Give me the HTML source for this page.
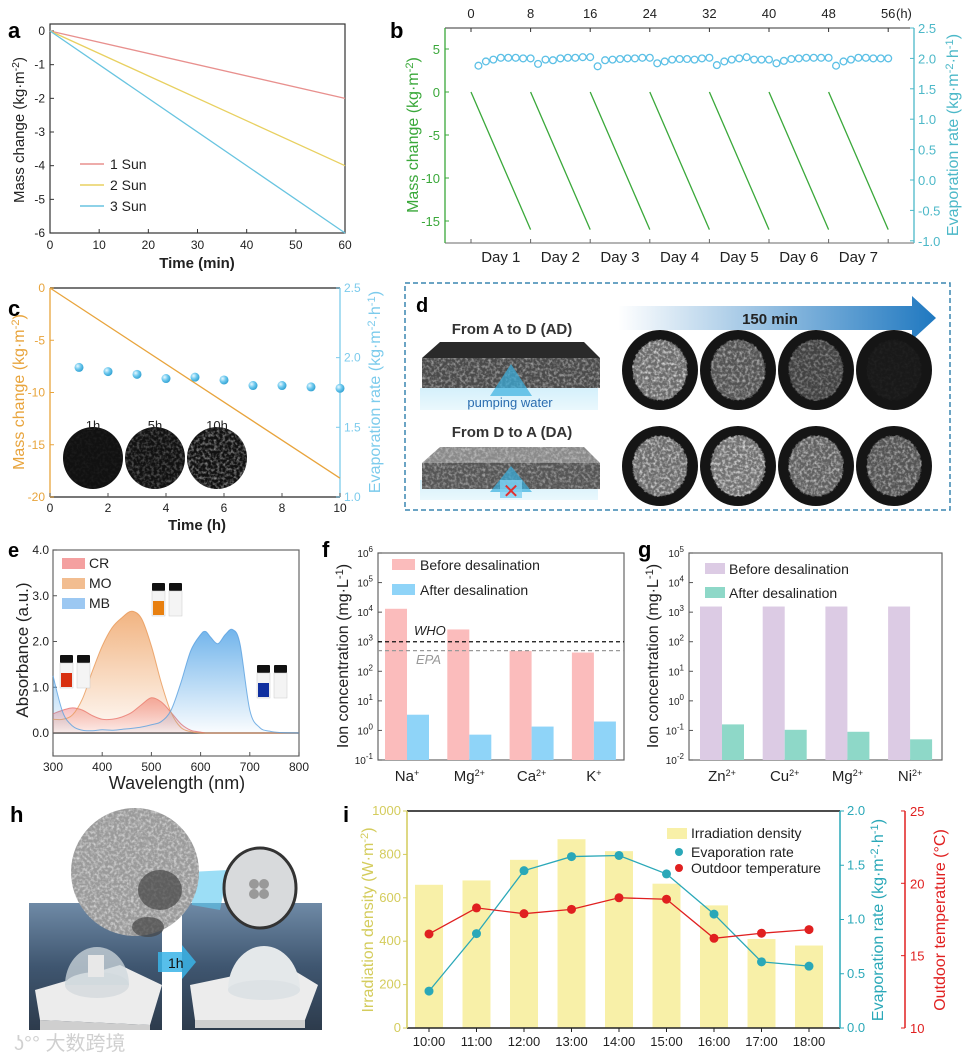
<!DOCTYPE html>
<html><head><meta charset="utf-8"><style>
html,body{margin:0;padding:0;background:#fff}
svg{display:block;font-family:"Liberation Sans","Noto Sans CJK SC",sans-serif}
</style></head><body>
<svg id="fig" width="965" height="1059" viewBox="0 0 965 1059" xmlns="http://www.w3.org/2000/svg">
<defs>
<filter id="noise" x="0" y="0" width="100%" height="100%"><feTurbulence type="fractalNoise" baseFrequency="0.35" numOctaves="2" seed="3" result="n"/><feColorMatrix in="n" type="matrix" values="0 0 0 0 1 0 0 0 0 1 0 0 0 0 1 0 0 0 2.2 -0.9" result="w"/><feComposite in="w" in2="SourceGraphic" operator="in"/></filter>
<radialGradient id="sph" cx="0.35" cy="0.35" r="0.7"><stop offset="0" stop-color="#e8f8ff"/><stop offset="0.5" stop-color="#6cc8ee"/><stop offset="1" stop-color="#2f9fd0"/></radialGradient>
<linearGradient id="arrowG" x1="0" x2="1"><stop offset="0" stop-color="#1f78c0" stop-opacity="0"/><stop offset="1" stop-color="#1f78c0"/></linearGradient>
<linearGradient id="gCR" gradientUnits="userSpaceOnUse" x1="0" y1="690" x2="0" y2="733"><stop offset="0" stop-color="#f07878" stop-opacity="0.75"/><stop offset="1" stop-color="#f07878" stop-opacity="0.1"/></linearGradient>
<linearGradient id="gMO" gradientUnits="userSpaceOnUse" x1="0" y1="610" x2="0" y2="733"><stop offset="0" stop-color="#eea060" stop-opacity="0.8"/><stop offset="1" stop-color="#eea060" stop-opacity="0.05"/></linearGradient>
<linearGradient id="gMB" gradientUnits="userSpaceOnUse" x1="0" y1="630" x2="0" y2="733"><stop offset="0" stop-color="#5aa8e8" stop-opacity="0.85"/><stop offset="1" stop-color="#5aa8e8" stop-opacity="0.03"/></linearGradient>
<linearGradient id="sea" x1="0" y1="0" x2="0" y2="1"><stop offset="0" stop-color="#6f8aa6"/><stop offset="0.5" stop-color="#3f5670"/><stop offset="1" stop-color="#2d3b4c"/></linearGradient>
<linearGradient id="water" x1="0" y1="0" x2="0" y2="1"><stop offset="0" stop-color="#d4f0fb"/><stop offset="1" stop-color="#eaf8fd"/></linearGradient>
</defs>

<!-- panel labels -->
<text x="8" y="38" font-size="22" font-weight="bold">a</text>
<text x="390" y="38" font-size="22" font-weight="bold">b</text>
<text x="8" y="316" font-size="22" font-weight="bold">c</text>
<text x="416" y="312" font-size="20" font-weight="bold">d</text>
<text x="8" y="557" font-size="20" font-weight="bold">e</text>
<text x="322" y="557" font-size="22" font-weight="bold">f</text>
<text x="638" y="557" font-size="22" font-weight="bold">g</text>
<text x="10" y="822" font-size="22" font-weight="bold">h</text>
<text x="343" y="822" font-size="22" font-weight="bold">i</text>

<!-- panel d -->
<g>
<rect x="405" y="283" width="545" height="227" fill="none" stroke="#3a86b0" stroke-width="1.5" stroke-dasharray="5,3"/>
<polygon points="618,306 912,306 912,296 936,318 912,340 912,330 618,330" fill="url(#arrowG)"/>
<text x="770" y="324" font-size="15" font-weight="bold" text-anchor="middle" fill="#222">150 min</text>
<text x="512" y="334" font-size="15" font-weight="bold" text-anchor="middle" fill="#333">From A to D (AD)</text>
<text x="512" y="437" font-size="15" font-weight="bold" text-anchor="middle" fill="#333">From D to A (DA)</text>
<g>
<rect x="420" y="388" width="178" height="22" fill="url(#water)"/>
<polygon points="440,342 584,342 600,358 422,358" fill="#2a2a2a"/>
<rect x="422" y="358" width="178" height="30" fill="#4a4a4a"/>
<rect x="422" y="358" width="178" height="30" fill="#fff" filter="url(#noise)" opacity="0.5"/>
<polygon points="511,364 532,396 490,396" fill="#3ab0e0" opacity="0.7"/>
<text x="510" y="407" font-size="13" text-anchor="middle" fill="#2b6db0">pumping water</text>
</g>
<g>
<rect x="420" y="480" width="178" height="20" fill="url(#water)"/>
<polygon points="440,447 584,447 600,463 422,463" fill="#8a8a8a"/>
<rect x="422" y="463" width="178" height="26" fill="#555"/>
<rect x="422" y="447" width="178" height="42" fill="#fff" filter="url(#noise)" opacity="0.45"/>
<polygon points="511,466 532,492 490,492" fill="#3ab0e0" opacity="0.7"/>
<rect x="500" y="480" width="22" height="18" fill="#7fd0f0" opacity="0.8"/>
<text x="511" y="498" font-size="20" text-anchor="middle" fill="#e03030">✕</text>
</g>
<g id="dphotos"></g>
</g>

<!-- panel h photos -->
<g>
<g>
<rect x="29" y="903" width="133" height="127" fill="url(#sea)"/>
<polygon points="35,990 120,965 162,985 150,1025 40,1020" fill="#ececec"/>
<polygon points="40,1020 150,1025 150,1030 40,1030" fill="#cfcfcf"/>
<ellipse cx="97" cy="985" rx="32" ry="13" fill="#d9dde0"/>
<path d="M65,985 A32,38 0 0 1 129,985 Z" fill="#cfd8de" opacity="0.75"/>
<rect x="88" y="955" width="16" height="22" fill="#e8e8e8"/>
</g>
<g>
<rect x="182" y="903" width="140" height="127" fill="url(#sea)"/>
<polygon points="190,985 285,965 318,985 305,1020 195,1020" fill="#ececec"/>
<polygon points="195,1020 305,1020 305,1028 195,1028" fill="#cfcfcf"/>
<path d="M228,990 A36,44 0 0 1 300,990 Z" fill="#e4e8ea"/>
<ellipse cx="264" cy="990" rx="36" ry="10" fill="#dde2e5"/>
</g>
<polygon points="190,872 228,870 220,910 192,905" fill="#5ac8f0" opacity="0.6"/>
<ellipse cx="135" cy="872" rx="64" ry="64" fill="#9a9a9a"/>
<ellipse cx="135" cy="872" rx="64" ry="64" fill="#fff" filter="url(#noise)" opacity="0.6"/>
<ellipse cx="160" cy="890" rx="22" ry="20" fill="#444" opacity="0.7"/>
<ellipse cx="148" cy="927" rx="16" ry="10" fill="#444" opacity="0.7"/>
<ellipse cx="260" cy="888" rx="36" ry="40" fill="#d8dadc" stroke="#333" stroke-width="3"/>
<circle cx="254" cy="884" r="5" fill="#999"/><circle cx="264" cy="884" r="5" fill="#999"/><circle cx="254" cy="894" r="5" fill="#999"/><circle cx="264" cy="894" r="5" fill="#999"/>
<polygon points="158,952 182,952 182,945 196,962 182,979 182,972 158,972" fill="#3ab4e8" opacity="0.85"/>
<text x="168" y="968" font-size="14" fill="#111">1h</text>
<text x="14" y="1050" font-size="20" fill="#d0d0d0" font-family="Liberation Sans, Noto Sans CJK SC, sans-serif">ʖ°° 大数跨境</text>
</g>

<g id="charts"></g>
</svg>
<script>
const NS='http://www.w3.org/2000/svg';
const root=document.getElementById('charts');
function E(tag,attrs,name,parent){
  const e=document.createElementNS(NS,tag);
  for(const k in attrs)e.setAttribute(k,attrs[k]);
  
  
  (parent||root).appendChild(e);return e;
}
function T(x,y,s,attrs,name,parent){
  const e=E('text',Object.assign({x:x,y:y,'font-size':12,fill:'#222'},attrs||{}),name,parent);
  e.innerHTML=s;return e;
}
function L(x1,y1,x2,y2,stroke,w,name,extra){
  return E('line',Object.assign({x1:x1,y1:y1,x2:x2,y2:y2,stroke:stroke,'stroke-width':w||1},extra||{}),name);
}
function smooth(pts){
  let d='M'+pts[0][0]+','+pts[0][1];
  for(let i=0;i<pts.length-1;i++){
    const p0=pts[Math.max(0,i-1)],p1=pts[i],p2=pts[i+1],p3=pts[Math.min(pts.length-1,i+2)];
    const c1x=p1[0]+(p2[0]-p0[0])/6,c1y=p1[1]+(p2[1]-p0[1])/6;
    const c2x=p2[0]-(p3[0]-p1[0])/6,c2y=p2[1]-(p3[1]-p1[1])/6;
    d+=' C'+c1x+','+c1y+' '+c2x+','+c2y+' '+p2[0]+','+p2[1];
  }
  return d;
}
const sup=s=>'<tspan dy="-5" font-size="0.7em">'+s+'</tspan>';

/* ===== Panel a data ===== */
const aTimes=[0,60];
const aSunLabels=['1 Sun','2 Sun','3 Sun'];
const aSunStart=[0,0,0];
const aSunEnd=[-2,-4,-6];
const aXTicks=[0,10,20,30,40,50,60];
const aYTicks=[0,-1,-2,-3,-4,-5,-6];
const aColors=['#e8908e','#e8d060','#68c4e0'];
const ax=t=>50+t*4.917, ay=m=>31-m*33.67;
E('rect',{x:50,y:24,width:295,height:209,fill:'none',stroke:'#333','stroke-width':1.2},'panel-a-frame');
aXTicks.forEach(t=>{L(ax(t),233,ax(t),229,'#333',1,'a-x-tick');T(ax(t),249,t,{'text-anchor':'middle'},'a-x-tick-label');});
aYTicks.forEach(m=>{L(50,ay(m),54,ay(m),'#333',1,'a-y-tick');T(45,ay(m)+4,m,{'text-anchor':'end'},'a-y-tick-label');});
aSunEnd.forEach((v,i)=>{
  L(ax(aTimes[0]),ay(aSunStart[i]),ax(aTimes[1]),ay(v),aColors[i],1.3,'a-line-'+(i+1)+'-sun');
  L(80,164+i*21,104,164+i*21,aColors[i],1.5,'a-legend-swatch');
  T(110,169+i*21,aSunLabels[i],{'font-size':14},'a-legend-label');
});
T(197,268,'Time (min)',{'font-size':15,'font-weight':'bold','text-anchor':'middle'},'a-x-title');
T(0,0,'Mass change (kg·m'+sup('-2')+'<tspan dy="5">)</tspan>',{'font-size':15,'text-anchor':'middle',transform:'translate(24,130) rotate(-90)'},'a-y-title');

/* ===== Panel b data ===== */
const bDayStartHours=[0,8,16,24,32,40,48];
const bDayLength=8;
const bMassStart=[0,0,0,0,0,0,0];
const bMassEnd=[-16,-16,-16,-16,-16,-16,-16];
const bRates=[1.88,1.95,1.98,2.01,2.01,2.01,2.0,2.0,
 1.91,1.98,1.97,2.0,2.01,2.01,2.02,2.02,
 1.87,1.97,1.98,1.99,2.0,2.0,2.01,2.01,
 1.92,1.95,1.98,1.99,1.99,1.98,2.0,2.01,
 1.89,1.95,1.98,2.0,2.02,1.98,1.98,1.98,
 1.92,1.96,1.99,2.0,2.01,2.01,2.01,2.01,
 1.88,1.95,1.98,2.01,2.01,2.0,2.0,2.0];
const bTopTicks=[0,8,16,24,32,40,48,56];
const bLeftTicks=[5,0,-5,-10,-15];
const bRightTicks=[2.5,2.0,1.5,1.0,0.5,0.0,-0.5,-1.0];
const bDays=['Day 1','Day 2','Day 3','Day 4','Day 5','Day 6','Day 7'];
const bx=h=>471+h*7.45, byL=m=>92-m*8.6, byR=r=>28+(2.5-r)*60.8;
const bG='#3aa83a', bC='#4cb8c8';
L(445,28,914,28,'#333',1,'b-top-axis');
L(445,243,914,243,'#888',1.2,'b-bottom-axis');
L(445,28,445,243,bG,1.3,'b-left-axis');
L(914,28,914,243,bC,1.3,'b-right-axis');
bTopTicks.forEach(h=>{L(bx(h),28,bx(h),32,'#333',1,'b-top-tick');L(bx(h),243,bx(h),239,'#666',1,'b-bottom-tick');T(bx(h),18,h,{'text-anchor':'middle','font-size':13},'b-top-tick-label');});
T(896,18,'(h)',{'font-size':13},'b-top-unit');
bLeftTicks.forEach(m=>{L(445,byL(m),449,byL(m),bG,1,'b-left-tick');T(440,byL(m)+5,m,{'text-anchor':'end','font-size':13,fill:bG},'b-left-tick-label');});
bRightTicks.forEach(r=>{L(914,byR(r),910,byR(r),bC,1,'b-right-tick');T(918,byR(r)+5,r.toFixed(1),{'font-size':13,fill:bC},'b-right-tick-label');});
bDays.forEach((d,i)=>T(bx(bDayStartHours[i]+bDayLength/2),262,d,{'text-anchor':'middle','font-size':15},'b-day-label'));
bDayStartHours.forEach((h,i)=>L(bx(h),byL(bMassStart[i]),bx(h+bDayLength),byL(bMassEnd[i]),bG,1.3,'b-mass-line-day-'+(i+1)));
bRates.forEach((r,i)=>E('circle',{cx:bx(i+1),cy:byR(r),r:3.4,fill:'none',stroke:'#5cc0e6','stroke-width':1.3},'b-rate-point'));
T(0,0,'Mass change (kg·m'+sup('-2')+'<tspan dy="5">)</tspan>',{'font-size':16,fill:bG,'text-anchor':'middle',transform:'translate(418,135) rotate(-90)'},'b-left-title');
T(0,0,'Evaporation rate (kg·m'+sup('-2')+'<tspan dy="5">·h</tspan>'+sup('-1')+'<tspan dy="5">)</tspan>',{'font-size':16,fill:bC,'text-anchor':'middle',transform:'translate(958,135) rotate(-90)'},'b-right-title');

/* ===== Panel c data ===== */
const cLineHours=[0,10];
const cLineMass=[0,-18.2];
const cRateHours=[1,2,3,4,5,6,7,8,9,10];
const cRates=[1.93,1.90,1.88,1.85,1.86,1.84,1.80,1.80,1.79,1.78];
const cXTicks=[0,2,4,6,8,10];
const cLeftTicks=[0,-5,-10,-15,-20];
const cRightTicks=[2.5,2.0,1.5,1.0];
const cx=h=>50+h*29, cyL=m=>288-m*10.45, cyR=r=>288+(2.5-r)*139.3;
const cO='#e8a43c', cB='#7ccbec';
L(50,288,340,288,'#777',2,'c-top-axis');
L(50,497,340,497,'#777',2,'c-bottom-axis');
L(50,288,50,497,cO,1.3,'c-left-axis');
L(340,288,340,497,cB,1.3,'c-right-axis');
cXTicks.forEach(h=>{L(cx(h),497,cx(h),493,'#555',1,'c-x-tick');T(cx(h),512,h,{'text-anchor':'middle'},'c-x-tick-label');});
cLeftTicks.forEach(m=>{L(50,cyL(m),54,cyL(m),cO,1,'c-left-tick');T(45,cyL(m)+4,m,{'text-anchor':'end',fill:cO},'c-left-tick-label');});
cRightTicks.forEach(r=>{L(340,cyR(r),336,cyR(r),cB,1,'c-right-tick');T(344,cyR(r)+4,r.toFixed(1),{fill:cB},'c-right-tick-label');});
T(197,530,'Time (h)',{'font-size':15,'font-weight':'bold','text-anchor':'middle'},'c-x-title');
T(0,0,'Mass change (kg·m'+sup('-2')+'<tspan dy="5">)</tspan>',{'font-size':16,fill:cO,'text-anchor':'middle',transform:'translate(24,392) rotate(-90)'},'c-left-title');
T(0,0,'Evaporation rate (kg·m'+sup('-2')+'<tspan dy="5">·h</tspan>'+sup('-1')+'<tspan dy="5">)</tspan>',{'font-size':16,fill:cB,'text-anchor':'middle',transform:'translate(380,392) rotate(-90)'},'c-right-title');
const cPhotoLabels=['1h','5h','10h'];
const cPhotoBright=[0.05,0.3,0.5];
cPhotoLabels.forEach((s,i)=>{
  const x=93+i*62;
  E('ellipse',{cx:x,cy:458,rx:30,ry:31,fill:'#111'},'c-photo-'+s);
  E('ellipse',{cx:x,cy:458,rx:30,ry:31,fill:'#fff',filter:'url(#noise)',opacity:cPhotoBright[i]},'c-photo-texture');
  T(x,430,s,{'text-anchor':'middle','font-size':13},'c-photo-label');
});
E('path',{d:'M'+cx(cLineHours[0])+','+cyL(cLineMass[0])+' L'+cx(cLineHours[1])+','+cyL(cLineMass[1]),stroke:cO,'stroke-width':1.3,fill:'none'},'c-mass-line');
cRates.forEach((r,i)=>E('circle',{cx:cx(cRateHours[i]),cy:cyR(r),r:4.5,fill:'url(#sph)'},'c-rate-point'));

/* ===== Panel d photos ===== */
const dBright=[[0.75,0.55,0.4,0.04],[0.75,0.8,0.65,0.55]];
const dph=document.getElementById('dphotos');
dBright.forEach((row,ri)=>row.forEach((b,ci)=>{
  const x=660+ci*78,y=370+ri*96;
  E('ellipse',{cx:x,cy:y,rx:38,ry:40,fill:'#151515'},'salt-photo-bg',dph);
  E('ellipse',{cx:x,cy:y,rx:27,ry:30,fill:'#888',opacity:b},'salt-deposit',dph);
  E('ellipse',{cx:x,cy:y,rx:28,ry:31,fill:'#fff',filter:'url(#noise)',opacity:b},'salt-texture',dph);
}));

/* ===== Panel e data ===== */
const eWl=[300,320,340,360,380,400,420,440,460,480,500,520,540,560,580,600,610,620,635,650,665,680,700,720,740,760,800];
const eCR=[0.42,0.5,0.55,0.5,0.38,0.3,0.3,0.35,0.45,0.62,0.77,0.68,0.45,0.2,0.06,0.02,0,0,0,0,0,0,0,0,0,0,0];
const eMO=[0.3,0.3,0.4,0.75,1.35,1.9,2.3,2.52,2.66,2.5,1.9,1.1,0.45,0.12,0.03,0,0,0,0,0,0,0,0,0,0,0,0];
const eMB=[1.25,0.45,0.15,0.06,0.05,0.07,0.06,0.08,0.1,0.13,0.18,0.25,0.5,1.1,1.8,2.15,2.22,2.1,1.95,2.15,2.26,1.95,0.5,0.12,0.04,0.01,0];
const eXTicks=[300,400,500,600,700,800];
const eYTicks=[0,1,2,3,4];
const ex=w=>53+(w-300)*0.492, ey=a=>733-a*45.75;
E('rect',{x:53,y:550,width:246,height:206,fill:'none',stroke:'#666','stroke-width':1.2},'panel-e-frame');
L(53,733,299,733,'#555',1.5,'e-zero-line');
eXTicks.forEach(w=>{L(ex(w),756,ex(w),752,'#555',1,'e-x-tick');T(ex(w),771,w,{'text-anchor':'middle'},'e-x-tick-label');});
eYTicks.forEach(a=>{L(53,ey(a),57,ey(a),'#555',1,'e-y-tick');T(49,ey(a)+4,a.toFixed(1),{'text-anchor':'end'},'e-y-tick-label');});
T(177,789,'Wavelength (nm)',{'font-size':18,'text-anchor':'middle'},'e-x-title');
T(0,0,'Absorbance (a.u.)',{'font-size':17,'text-anchor':'middle',transform:'translate(28,650) rotate(-90)'},'e-y-title');
[['CR',eCR,'url(#gCR)','#e87070'],['MO',eMO,'url(#gMO)','#e89858'],['MB',eMB,'url(#gMB)','#5aa0e0']].forEach(s=>{
  const pts=eWl.map((w,i)=>[ex(w),ey(s[1][i])]);
  const d=smooth(pts);
  E('path',{d:d+' L'+ex(800)+','+ey(0)+' L'+ex(300)+','+ey(0)+' Z',fill:s[2],stroke:'none'},'e-area-'+s[0]);
  E('path',{d:d,fill:'none',stroke:s[3],'stroke-width':1,opacity:0.8},'e-curve-'+s[0]);
});
[['CR','#f4a0a0'],['MO','#f2bd90'],['MB','#9cc8f2']].forEach((s,i)=>{
  E('rect',{x:62,y:558+i*20,width:23,height:11,fill:s[1]},'e-legend-swatch');
  T(89,568+i*20,s[0],{'font-size':14},'e-legend-label');
});
const vials=[[60,655,'#d83010'],[152,583,'#e88010'],[257,665,'#1030a0']];
vials.forEach(v=>{
  [0,1].forEach(k=>{
    const x=v[0]+k*17;
    E('rect',{x:x,y:v[1],width:13,height:8,fill:'#111',rx:1},'vial-cap');
    E('rect',{x:x,y:v[1]+8,width:13,height:25,fill:'#f4f4f4',stroke:'#ccc','stroke-width':0.5},'vial-body');
    if(k===0)E('rect',{x:x+1,y:v[1]+18,width:11,height:14,fill:v[2]},'vial-dye');
  });
});

/* ===== Panel f data ===== */
const fIons=['Na<tspan dy="-5" font-size="9">+</tspan>','Mg<tspan dy="-5" font-size="9">2+</tspan>','Ca<tspan dy="-5" font-size="9">2+</tspan>','K<tspan dy="-5" font-size="9">+</tspan>'];
const fBefore=[13000,2600,490,430];
const fAfter=[3.4,0.72,1.35,2.0];
const fWHO=1000, fEPA=500;
const fExp=[-1,0,1,2,3,4,5,6];
const fy=v=>760-(Math.log10(v)+1)*29.57;
const fx=i=>407+i*62.3;
E('rect',{x:378,y:553,width:246,height:207,fill:'none',stroke:'#666','stroke-width':1.2},'panel-f-frame');
fExp.forEach(p=>{L(378,fy(Math.pow(10,p)),382,fy(Math.pow(10,p)),'#555',1,'f-y-tick');T(373,fy(Math.pow(10,p))+4,'10<tspan dy="-5" font-size="8">'+p+'</tspan>',{'text-anchor':'end','font-size':10},'f-y-tick-label');});
fBefore.forEach((v,i)=>{
  E('rect',{x:fx(i)-22,y:fy(v),width:22,height:760-fy(v),fill:'#fbbcbc'},'f-bar-before-'+i);
  E('rect',{x:fx(i),y:fy(fAfter[i]),width:22,height:760-fy(fAfter[i]),fill:'#8fd4f8'},'f-bar-after-'+i);
  T(fx(i),781,fIons[i],{'text-anchor':'middle','font-size':15},'f-x-label');
});
L(378,fy(fWHO),624,fy(fWHO),'#111',1.3,'f-who-line',{'stroke-dasharray':'4,3'});
L(378,fy(fEPA),624,fy(fEPA),'#999',1.3,'f-epa-line',{'stroke-dasharray':'4,3'});
T(414,635,'WHO',{'font-size':13,'font-style':'italic'},'f-who-label');
T(416,664,'EPA',{'font-size':13,'font-style':'italic',fill:'#999'},'f-epa-label');
E('rect',{x:392,y:559,width:23,height:11,fill:'#fbbcbc'},'f-legend-before-swatch');
T(420,570,'Before desalination',{'font-size':14},'f-legend-before');
E('rect',{x:392,y:584,width:23,height:11,fill:'#8fd4f8'},'f-legend-after-swatch');
T(420,595,'After desalination',{'font-size':14},'f-legend-after');
T(0,0,'Ion concentration (mg·L'+sup('-1')+'<tspan dy="5">)</tspan>',{'font-size':16,'text-anchor':'middle',transform:'translate(348,656) rotate(-90)'},'f-y-title');

/* ===== Panel g data ===== */
const gIons=['Zn<tspan dy="-5" font-size="9">2+</tspan>','Cu<tspan dy="-5" font-size="9">2+</tspan>','Mg<tspan dy="-5" font-size="9">2+</tspan>','Ni<tspan dy="-5" font-size="9">2+</tspan>'];
const gBefore=[1550,1550,1550,1550];
const gAfter=[0.16,0.105,0.09,0.05];
const gExp=[-2,-1,0,1,2,3,4,5];
const gy=v=>760-(Math.log10(v)+2)*29.57;
const gxp=i=>722+i*62.7;
E('rect',{x:689,y:553,width:253,height:207,fill:'none',stroke:'#666','stroke-width':1.2},'panel-g-frame');
gExp.forEach(p=>{L(689,gy(Math.pow(10,p)),693,gy(Math.pow(10,p)),'#555',1,'g-y-tick');T(684,gy(Math.pow(10,p))+4,'10<tspan dy="-5" font-size="8">'+p+'</tspan>',{'text-anchor':'end','font-size':10},'g-y-tick-label');});
gBefore.forEach((v,i)=>{
  E('rect',{x:gxp(i)-22,y:gy(v),width:22,height:760-gy(v),fill:'#dccbe4'},'g-bar-before-'+i);
  E('rect',{x:gxp(i),y:gy(gAfter[i]),width:22,height:760-gy(gAfter[i]),fill:'#8ed8c8'},'g-bar-after-'+i);
  T(gxp(i),781,gIons[i],{'text-anchor':'middle','font-size':15},'g-x-label');
});
E('rect',{x:705,y:563,width:20,height:11,fill:'#dccbe4'},'g-legend-before-swatch');
T(729,574,'Before desalination',{'font-size':14},'g-legend-before');
E('rect',{x:705,y:587,width:20,height:11,fill:'#8ed8c8'},'g-legend-after-swatch');
T(729,598,'After desalination',{'font-size':14},'g-legend-after');
T(0,0,'Ion concentration (mg·L'+sup('-1')+'<tspan dy="5">)</tspan>',{'font-size':16,'text-anchor':'middle',transform:'translate(658,656) rotate(-90)'},'g-y-title');

/* ===== Panel i data ===== */
const iTimes=['10:00','11:00','12:00','13:00','14:00','15:00','16:00','17:00','18:00'];
const iIrr=[660,680,775,870,815,665,565,410,380];
const iEvap=[0.34,0.87,1.45,1.58,1.59,1.42,1.05,0.61,0.57];
const iTemp=[16.5,18.3,17.9,18.2,19.0,18.9,16.2,16.55,16.8];
const iLeftTicks=[0,200,400,600,800,1000];
const iEvapTicks=[0.0,0.5,1.0,1.5,2.0];
const iTempTicks=[10,15,20,25];
const ix=i=>429+i*47.5, iyL=v=>1028-v*0.217, iyE=v=>1028-v*108.5, iyT=v=>1028-(v-10)*14.47;
const iY='#d4cc5c', iC='#2aa8b8', iR='#e02020';
iIrr.forEach((v,i)=>E('rect',{x:ix(i)-14,y:iyL(v),width:28,height:1028-iyL(v),fill:'#f8f0a8'},'i-bar-irradiation-'+iTimes[i]));
L(407,811,840,811,'#111',1.5,'i-top-axis');
L(407,1028,840,1028,'#222',1.5,'i-bottom-axis');
L(407,811,407,1028,iY,1.5,'i-left-axis');
L(840,811,840,1028,iC,1.5,'i-right-axis');
L(905,811,905,1028,iR,1.5,'i-temp-axis');
iTimes.forEach((t,i)=>{L(ix(i),1028,ix(i),1032,'#222',1,'i-x-tick');T(ix(i),1046,t,{'text-anchor':'middle','font-size':13},'i-x-tick-label');});
iLeftTicks.forEach(v=>{L(407,iyL(v),403,iyL(v),iY,1,'i-left-tick');T(401,iyL(v)+4,v,{'text-anchor':'end','font-size':13,fill:iY},'i-left-tick-label');});
iEvapTicks.forEach(v=>{L(840,iyE(v),844,iyE(v),iC,1,'i-evap-tick');T(847,iyE(v)+4,v.toFixed(1),{'font-size':13,fill:iC},'i-evap-tick-label');});
iTempTicks.forEach(v=>{L(905,iyT(v),901,iyT(v),iR,1,'i-temp-tick');T(910,iyT(v)+5,v,{'font-size':13,fill:iR},'i-temp-tick-label');});
E('polyline',{points:iEvap.map((v,i)=>ix(i)+','+iyE(v)).join(' '),fill:'none',stroke:iC,'stroke-width':1.3},'i-evap-line');
E('polyline',{points:iTemp.map((v,i)=>ix(i)+','+iyT(v)).join(' '),fill:'none',stroke:iR,'stroke-width':1.3},'i-temp-line');
iEvap.forEach((v,i)=>E('circle',{cx:ix(i),cy:iyE(v),r:4.5,fill:iC},'i-evap-point'));
iTemp.forEach((v,i)=>E('circle',{cx:ix(i),cy:iyT(v),r:4.5,fill:iR},'i-temp-point'));
E('rect',{x:667,y:828,width:20,height:11,fill:'#f8f0a8'},'i-legend-irr-swatch');
T(691,838,'Irradiation density',{'font-size':14},'i-legend-irr');
E('circle',{cx:679,cy:852,r:4,fill:iC},'i-legend-evap-swatch');
T(691,857,'Evaporation rate',{'font-size':14},'i-legend-evap');
E('circle',{cx:679,cy:868,r:4,fill:iR},'i-legend-temp-swatch');
T(691,873,'Outdoor temperature',{'font-size':14},'i-legend-temp');
T(0,0,'Irradiation density (W·m'+sup('-2')+'<tspan dy="5">)</tspan>',{'font-size':16,fill:iY,'text-anchor':'middle',transform:'translate(373,920) rotate(-90)'},'i-left-title');
T(0,0,'Evaporation rate (kg·m'+sup('-2')+'<tspan dy="5">·h</tspan>'+sup('-1')+'<tspan dy="5">)</tspan>',{'font-size':16,fill:iC,'text-anchor':'middle',transform:'translate(883,920) rotate(-90)'},'i-evap-title');
T(0,0,'Outdoor temperature (°C)',{'font-size':16,fill:iR,'text-anchor':'middle',transform:'translate(945,920) rotate(-90)'},'i-temp-title');
</script>
</body></html>
